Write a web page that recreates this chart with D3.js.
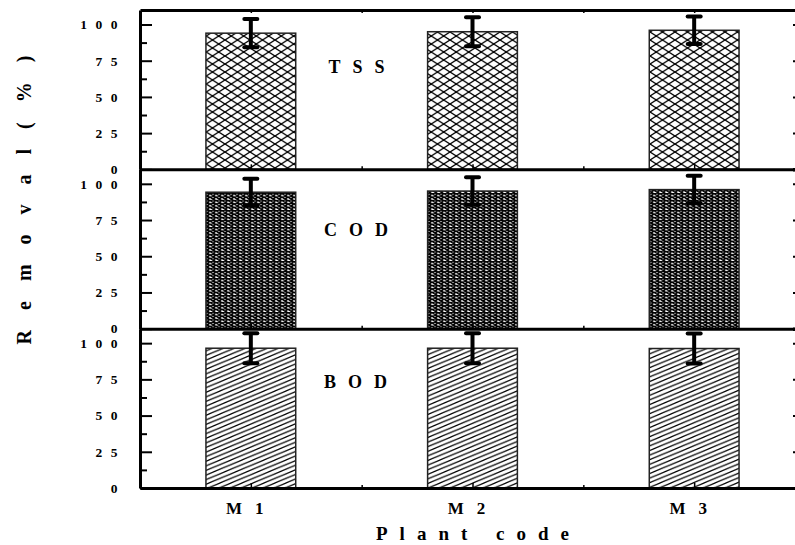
<!DOCTYPE html>
<html>
<head>
<meta charset="utf-8">
<script src="https://cdn.jsdelivr.net/npm/d3@7"></script>
<style>
  body { margin: 0; background: #fff; }
  text { font-family: "Liberation Serif", "Times New Roman", serif; font-weight: bold; fill: #000; }
</style>
</head>
<body>
<div id="chart"></div>
<script>
// data
var plants = ["M1", "M2", "M3"];
var panels = ["TSS", "COD", "BOD"];
var tssValues = [94, 95, 96];
var tssErrors = [9.8, 10, 9.5];
var codValues = [94.2, 95, 96];
var codErrors = [9.3, 9.5, 9.5];
var bodValues = [96.5, 96.5, 96.3];
var bodErrors = [10.3, 10.3, 10.3];
var yTicks = [0, 25, 50, 75, 100];
var yMinorTicks = [12.5, 37.5, 62.5, 87.5];

var seriesValues = [tssValues, codValues, bodValues];
var seriesErrors = [tssErrors, codErrors, bodErrors];

var width = 795, height = 545;
var margin = {top: 10, left: 140, right: -10, bottom: 57};
var panelH = (height - margin.top - margin.bottom) / 3;

var svg = d3.select("#chart").append("svg")
    .attr("width", width)
    .attr("height", height);

// patterns
var defs = svg.append("defs");

function crossPattern(id, w, h, sw) {
    var p = defs.append("pattern")
        .attr("id", id)
        .attr("patternUnits", "userSpaceOnUse")
        .attr("width", w)
        .attr("height", h);
    p.append("rect").attr("width", w).attr("height", h).attr("fill", "#fff");
    p.append("path")
        .attr("d", "M" + (-w) + "," + (-h) + "L" + (2 * w) + "," + (2 * h) +
                   "M" + (-w) + "," + (2 * h) + "L" + (2 * w) + "," + (-h))
        .attr("stroke", "#000")
        .attr("stroke-width", sw);
}
crossPattern("hatchTSS", 12.5, 8, 1.3);
crossPattern("hatchCOD", 6, 3.4, 1.6);

var diag = defs.append("pattern")
    .attr("id", "hatchBOD")
    .attr("patternUnits", "userSpaceOnUse")
    .attr("width", 11)
    .attr("height", 4.6);
diag.append("rect").attr("width", 11).attr("height", 4.6).attr("fill", "#fff");
diag.append("path")
    .attr("d", "M-11,9.2L22,-4.6M-11,4.6L11,-4.6M0,9.2L22,0")
    .attr("stroke", "#000")
    .attr("stroke-width", 1.2);

var fills = ["url(#hatchTSS)", "url(#hatchCOD)", "url(#hatchBOD)"];

var x = d3.scaleLinear()
    .domain([0.5, 3.5])
    .range([margin.left, width - margin.right]);

var barW = x(0.405) - x(0);
var labelPos = [[1.35, 66.7], [1.33, 64], [1.33, 68.8]];

panels.forEach(function(name, pi) {
    var top = margin.top + pi * panelH;
    var bottom = top + panelH;
    var y = d3.scaleLinear().domain([0, 110]).range([bottom, top]);
    var g = svg.append("g");

    // bars
    g.selectAll(".bar")
        .data(seriesValues[pi])
        .enter()
        .append("rect")
            .attr("x", function(d, i) { return x(i + 1) - barW / 2; })
            .attr("y", function(d) { return y(d); })
            .attr("width", barW)
            .attr("height", function(d) { return y(0) - y(d); })
            .attr("fill", fills[pi])
            .attr("stroke", "#222")
            .attr("stroke-width", 1.5);

    // error bars
    var errs = seriesValues[pi].map(function(v, i) { return {i: i, v: v, e: seriesErrors[pi][i]}; });
    var eb = g.selectAll(".err").data(errs).enter().append("g");
    eb.append("line")
        .attr("x1", function(d) { return x(d.i + 1); })
        .attr("x2", function(d) { return x(d.i + 1); })
        .attr("y1", function(d) { return y(d.v + d.e); })
        .attr("y2", function(d) { return y(d.v - d.e); })
        .attr("stroke", "#000")
        .attr("stroke-width", 4);
    [1, -1].forEach(function(s) {
        eb.append("line")
            .attr("x1", function(d) { return x(d.i + 1) - 6.5; })
            .attr("x2", function(d) { return x(d.i + 1) + 6.5; })
            .attr("y1", function(d) { return y(d.v + s * d.e); })
            .attr("y2", function(d) { return y(d.v + s * d.e); })
            .attr("stroke", "#000")
            .attr("stroke-width", 4)
            .attr("stroke-linecap", "round");
    });

    // left axis, inward ticks
    var yAxis = g.append("g")
        .attr("transform", "translate(" + margin.left + ",0)")
        .call(d3.axisLeft(y).tickValues(yTicks).tickSizeInner(-12).tickSizeOuter(0).tickPadding(14));
    yAxis.select(".domain").attr("stroke-width", 3);
    yAxis.selectAll(".tick line").attr("stroke-width", 2);
    yAxis.selectAll(".tick text")
        .style("font-size", "13.5px")
        .style("letter-spacing", "8.5px")
        .attr("font-family", null);

    g.append("g")
        .attr("transform", "translate(" + margin.left + ",0)")
        .call(d3.axisLeft(y).tickValues(yMinorTicks).tickSize(-7).tickFormat(""))
        .call(function(a) { a.select(".domain").remove(); a.selectAll("line").attr("stroke-width", 2); });

    // right axis (mostly off the page)
    g.append("g")
        .attr("transform", "translate(" + (width - margin.right) + ",0)")
        .call(d3.axisRight(y).tickValues(yTicks).tickSize(-12).tickFormat(""))
        .call(function(a) { a.select(".domain").attr("stroke-width", 3); a.selectAll("line").attr("stroke-width", 2); });

    // bottom axis of the panel
    var xAxis = g.append("g")
        .attr("transform", "translate(0," + bottom + ")")
        .call(d3.axisBottom(x).tickValues([1, 2, 3]).tickSizeInner(-5).tickSizeOuter(0).tickPadding(14)
            .tickFormat(function(d, i) { return pi === panels.length - 1 ? plants[i] : ""; }));
    xAxis.select(".domain").attr("stroke-width", 3);
    xAxis.selectAll(".tick line").attr("stroke-width", 1.5);
    xAxis.selectAll(".tick text")
        .style("font-size", "17px")
        .style("letter-spacing", "13px")
        .attr("font-family", null);
    g.append("g")
        .attr("transform", "translate(0," + bottom + ")")
        .call(d3.axisBottom(x).tickValues([1.5, 2.5]).tickSize(-3).tickFormat(""))
        .call(function(a) { a.select(".domain").remove(); a.selectAll("line").attr("stroke-width", 1.5); });

    if (pi === 0) {
        var topAxis = g.append("g")
            .attr("transform", "translate(0," + top + ")")
            .call(d3.axisTop(x).tickValues([1, 1.5, 2, 2.5, 3]).tickSizeInner(-3).tickSizeOuter(0).tickFormat(""));
        topAxis.select(".domain").attr("stroke-width", 3);
        topAxis.selectAll("line").attr("stroke-width", 1.5);
    }

    // panel label
    g.append("text")
        .attr("x", x(labelPos[pi][0]))
        .attr("y", y(labelPos[pi][1]))
        .style("font-size", "18px")
        .style("letter-spacing", "12px")
        .text(name);
});

// axis titles
svg.append("text")
    .attr("x", (x.range()[0] + x.range()[1]) / 2 + 6)
    .attr("y", 540)
    .attr("text-anchor", "middle")
    .style("font-size", "19px")
    .style("letter-spacing", "12px")
    .text("Plant code");

svg.append("text")
    .attr("transform", "translate(31,190) rotate(-90)")
    .attr("text-anchor", "middle")
    .style("font-size", "20px")
    .style("letter-spacing", "20px")
    .text("Removal(%)");
</script>
</body>
</html>
